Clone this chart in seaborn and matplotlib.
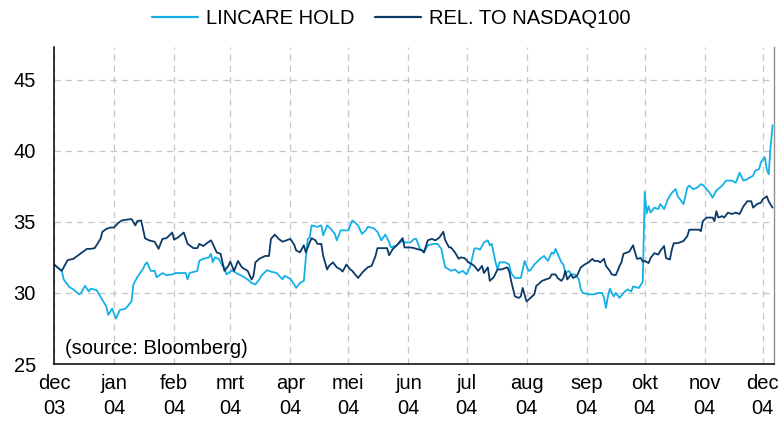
import pandas as pd
import numpy as np
import matplotlib
matplotlib.use('Agg')
import matplotlib.pyplot as plt
from matplotlib.lines import Line2D
import seaborn as sns

# --- dati (koers en relatieve koers, USD) ---
lincare_dates = [
    '2003-12-01', '2003-12-05', '2003-12-06', '2003-12-09', '2003-12-11', '2003-12-14', '2003-12-15',
    '2003-12-17', '2003-12-19', '2003-12-20', '2003-12-23', '2003-12-26', '2003-12-28', '2003-12-29',
    '2003-12-31', '2004-01-02', '2004-01-04', '2004-01-07', '2004-01-10', '2004-01-11', '2004-01-13',
    '2004-01-16', '2004-01-17', '2004-01-18', '2004-01-20', '2004-01-22', '2004-01-23', '2004-01-26',
    '2004-01-28', '2004-01-31', '2004-02-02', '2004-02-07', '2004-02-08', '2004-02-09', '2004-02-13',
    '2004-02-14', '2004-02-16', '2004-02-19', '2004-02-20', '2004-02-21', '2004-02-22', '2004-02-24',
    '2004-02-26', '2004-02-27', '2004-02-28', '2004-03-02', '2004-03-04', '2004-03-07', '2004-03-10',
    '2004-03-12', '2004-03-14', '2004-03-16', '2004-03-17', '2004-03-20', '2004-03-22', '2004-03-25',
    '2004-03-28', '2004-03-29', '2004-04-01', '2004-04-03', '2004-04-04', '2004-04-06', '2004-04-08',
    '2004-04-09', '2004-04-10', '2004-04-11', '2004-04-12', '2004-04-15', '2004-04-17', '2004-04-18',
    '2004-04-20', '2004-04-22', '2004-04-24', '2004-04-25', '2004-04-27', '2004-04-29', '2004-05-01',
    '2004-05-03', '2004-05-04', '2004-05-06', '2004-05-08', '2004-05-10', '2004-05-11', '2004-05-14',
    '2004-05-16', '2004-05-18', '2004-05-20', '2004-05-22', '2004-05-23', '2004-05-26', '2004-05-29',
    '2004-05-30', '2004-06-02', '2004-06-04', '2004-06-05', '2004-06-07', '2004-06-09', '2004-06-11',
    '2004-06-14', '2004-06-16', '2004-06-18', '2004-06-19', '2004-06-20', '2004-06-22', '2004-06-23',
    '2004-06-25', '2004-06-27', '2004-06-29', '2004-07-01', '2004-07-03', '2004-07-05', '2004-07-06',
    '2004-07-08', '2004-07-10', '2004-07-12', '2004-07-13', '2004-07-14', '2004-07-16', '2004-07-17',
    '2004-07-18', '2004-07-21', '2004-07-23', '2004-07-24', '2004-07-26', '2004-07-29', '2004-07-31',
    '2004-08-02', '2004-08-03', '2004-08-05', '2004-08-08', '2004-08-10', '2004-08-12', '2004-08-14',
    '2004-08-15', '2004-08-16', '2004-08-17', '2004-08-19', '2004-08-20', '2004-08-21', '2004-08-23',
    '2004-08-24', '2004-08-26', '2004-08-28', '2004-08-29', '2004-08-30', '2004-09-02', '2004-09-05',
    '2004-09-07', '2004-09-09', '2004-09-10', '2004-09-11', '2004-09-12', '2004-09-13', '2004-09-15',
    '2004-09-16', '2004-09-18', '2004-09-20', '2004-09-22', '2004-09-24', '2004-09-25', '2004-09-28',
    '2004-09-30', '2004-10-01', '2004-10-02', '2004-10-03', '2004-10-04', '2004-10-06', '2004-10-08',
    '2004-10-09', '2004-10-11', '2004-10-13', '2004-10-15', '2004-10-17', '2004-10-18', '2004-10-20',
    '2004-10-21', '2004-10-23', '2004-10-24', '2004-10-26', '2004-10-28', '2004-10-30', '2004-10-31',
    '2004-11-02', '2004-11-04', '2004-11-05', '2004-11-07', '2004-11-10', '2004-11-12', '2004-11-15',
    '2004-11-17', '2004-11-19', '2004-11-21', '2004-11-23', '2004-11-24', '2004-11-26', '2004-11-27',
    '2004-11-29', '2004-11-30', '2004-12-02', '2004-12-03', '2004-12-04', '2004-12-05', '2004-12-06',
]
lincare_values = [
    32.0, 31.55, 30.95, 30.4, 30.25, 29.9, 30.0,
    30.5, 30.1, 30.3, 30.2, 29.5, 29.05, 28.45,
    28.9, 28.2, 28.8, 28.9, 29.4, 30.6, 31.1,
    31.7, 32.0, 32.15, 31.55, 31.55, 31.1, 31.4,
    31.25, 31.3, 31.4, 31.4, 30.95, 31.4, 31.55,
    32.25, 32.4, 32.5, 32.75, 32.15, 32.5, 32.4,
    31.9, 31.8, 31.3, 31.6, 31.4, 31.2, 30.95,
    30.7, 30.6, 30.95, 31.2, 31.6, 31.5, 31.4,
    30.95, 31.2, 31.0, 30.6, 30.35, 30.7, 30.85,
    32.4, 33.8, 33.9, 34.75, 34.65, 34.75, 34.05,
    34.75, 34.5, 34.15, 33.7, 34.4, 34.4, 34.4,
    35.1, 35.0, 34.75, 34.15, 34.4, 34.65, 34.55,
    34.3, 33.7, 34.1, 33.6, 33.2, 33.35, 33.7,
    33.55, 33.55, 33.8, 33.8, 33.1, 32.85, 33.35,
    33.45, 33.45, 33.1, 32.4, 31.8, 31.65, 31.55,
    31.65, 31.4, 31.55, 31.3, 31.9, 33.1, 33.15,
    33.05, 33.55, 33.7, 33.35, 33.45, 32.15, 31.65,
    32.15, 32.15, 32.0, 31.4, 31.05, 31.05, 32.25,
    31.55, 31.6, 32.0, 32.4, 32.6, 32.25, 32.85,
    32.75, 33.1, 32.75, 32.15, 32.0, 31.4, 31.55,
    31.3, 31.3, 30.95, 30.25, 30.0, 29.9, 29.9,
    30.0, 30.0, 29.65, 28.95, 29.75, 30.3, 29.75,
    30.0, 29.65, 30.0, 30.25, 30.1, 30.45, 30.35,
    30.8, 37.1, 35.6, 36.1, 35.65, 36.0, 35.9,
    36.25, 35.9, 36.6, 37.05, 37.3, 36.8, 36.45,
    36.25, 37.4, 37.55, 37.3, 37.4, 37.65, 37.6,
    37.3, 36.95, 36.7, 37.2, 37.55, 37.9, 37.9,
    37.75, 38.45, 37.9, 38.0, 38.1, 38.25, 38.6,
    38.7, 39.2, 39.55, 38.7, 38.35, 40.3, 41.8,
]

rel_dates = [
    '2003-12-01', '2003-12-05', '2003-12-06', '2003-12-08', '2003-12-11', '2003-12-13', '2003-12-16',
    '2003-12-18', '2003-12-20', '2003-12-22', '2003-12-25', '2003-12-26', '2003-12-28', '2003-12-30',
    '2004-01-01', '2004-01-03', '2004-01-05', '2004-01-10', '2004-01-12', '2004-01-13', '2004-01-15',
    '2004-01-17', '2004-01-19', '2004-01-22', '2004-01-24', '2004-01-26', '2004-01-28', '2004-01-30',
    '2004-01-31', '2004-02-01', '2004-02-03', '2004-02-06', '2004-02-08', '2004-02-11', '2004-02-13',
    '2004-02-14', '2004-02-16', '2004-02-20', '2004-02-21', '2004-02-23', '2004-02-25', '2004-02-27',
    '2004-02-29', '2004-03-01', '2004-03-03', '2004-03-05', '2004-03-07', '2004-03-10', '2004-03-12',
    '2004-03-13', '2004-03-14', '2004-03-16', '2004-03-19', '2004-03-21', '2004-03-22', '2004-03-24',
    '2004-03-26', '2004-03-28', '2004-04-01', '2004-04-03', '2004-04-04', '2004-04-06', '2004-04-08',
    '2004-04-09', '2004-04-11', '2004-04-12', '2004-04-14', '2004-04-15', '2004-04-17', '2004-04-18',
    '2004-04-20', '2004-04-21', '2004-04-23', '2004-04-25', '2004-04-27', '2004-04-28', '2004-04-30',
    '2004-05-02', '2004-05-03', '2004-05-06', '2004-05-08', '2004-05-09', '2004-05-11', '2004-05-13',
    '2004-05-15', '2004-05-16', '2004-05-18', '2004-05-21', '2004-05-22', '2004-05-24', '2004-05-26',
    '2004-05-29', '2004-05-30', '2004-06-02', '2004-06-04', '2004-06-05', '2004-06-08', '2004-06-09',
    '2004-06-11', '2004-06-13', '2004-06-15', '2004-06-17', '2004-06-19', '2004-06-20', '2004-06-22',
    '2004-06-23', '2004-06-25', '2004-06-27', '2004-06-28', '2004-06-30', '2004-07-02', '2004-07-04',
    '2004-07-05', '2004-07-07', '2004-07-09', '2004-07-10', '2004-07-12', '2004-07-13', '2004-07-15',
    '2004-07-17', '2004-07-19', '2004-07-22', '2004-07-23', '2004-07-24', '2004-07-26', '2004-07-28',
    '2004-07-29', '2004-07-30', '2004-08-01', '2004-08-03', '2004-08-05', '2004-08-06', '2004-08-07',
    '2004-08-09', '2004-08-11', '2004-08-13', '2004-08-14', '2004-08-16', '2004-08-17', '2004-08-19',
    '2004-08-20', '2004-08-21', '2004-08-22', '2004-08-24', '2004-08-25', '2004-08-27', '2004-08-29',
    '2004-08-31', '2004-09-02', '2004-09-04', '2004-09-05', '2004-09-07', '2004-09-08', '2004-09-10',
    '2004-09-11', '2004-09-13', '2004-09-14', '2004-09-16', '2004-09-17', '2004-09-18', '2004-09-19',
    '2004-09-20', '2004-09-22', '2004-09-23', '2004-09-25', '2004-09-26', '2004-09-27', '2004-09-29',
    '2004-09-30', '2004-10-01', '2004-10-03', '2004-10-04', '2004-10-06', '2004-10-08', '2004-10-09',
    '2004-10-11', '2004-10-12', '2004-10-14', '2004-10-15', '2004-10-16', '2004-10-18', '2004-10-21',
    '2004-10-23', '2004-10-24', '2004-10-26', '2004-10-29', '2004-10-30', '2004-10-31', '2004-11-02',
    '2004-11-05', '2004-11-06', '2004-11-07', '2004-11-08', '2004-11-10', '2004-11-11', '2004-11-13',
    '2004-11-15', '2004-11-17', '2004-11-19', '2004-11-21', '2004-11-23', '2004-11-25', '2004-11-26',
    '2004-11-28', '2004-11-30', '2004-12-01', '2004-12-03', '2004-12-04', '2004-12-06',
]
rel_values = [
    32.0, 31.55, 31.8, 32.3, 32.4, 32.6, 32.9,
    33.1, 33.1, 33.15, 33.8, 34.3, 34.5, 34.6,
    34.6, 34.9, 35.1, 35.2, 34.75, 35.05, 35.1,
    33.85, 33.7, 33.6, 33.1, 33.8, 33.85, 34.1,
    34.25, 33.75, 33.9, 34.25, 33.45, 33.15, 33.15,
    33.45, 33.3, 33.7, 33.45, 32.85, 32.75, 31.55,
    31.9, 32.2, 31.55, 32.25, 31.8, 31.55, 30.95,
    31.2, 32.15, 32.4, 32.6, 32.6, 33.8, 34.1,
    33.8, 33.6, 33.8, 33.4, 33.0, 32.85, 33.35,
    32.85, 33.55, 33.85, 33.7, 33.45, 33.45, 32.6,
    31.65, 31.9, 32.15, 31.8, 31.65, 31.5, 32.0,
    31.65, 31.55, 31.05, 31.4, 31.55, 31.8, 31.9,
    32.6, 33.15, 33.15, 33.15, 32.65, 33.1, 33.35,
    33.85, 33.2, 33.2, 33.15, 33.1, 33.0, 32.85,
    33.7, 33.8, 33.7, 33.9, 34.3, 33.7, 33.2,
    33.2, 32.85, 32.4, 32.5, 32.45, 32.15, 32.0,
    31.9, 31.55, 31.9, 31.4, 31.8, 30.85, 31.1,
    31.65, 31.65, 31.8, 31.55, 30.85, 29.75, 29.65,
    29.75, 30.35, 29.4, 29.65, 29.9, 30.5, 30.6,
    30.85, 30.95, 31.05, 31.3, 31.3, 31.05, 30.85,
    31.05, 31.55, 30.95, 31.3, 31.05, 31.2, 31.8,
    32.0, 32.15, 32.4, 32.25, 32.25, 32.15, 32.4,
    31.9, 31.55, 31.3, 31.25, 31.55, 31.9, 32.15,
    32.75, 32.85, 32.9, 33.35, 32.85, 32.4, 32.45,
    32.2, 32.25, 32.1, 32.45, 32.8, 32.7, 32.95,
    33.3, 32.45, 32.35, 33.05, 33.5, 33.5, 33.65,
    34.0, 34.45, 34.45, 34.45, 34.35, 35.05, 35.3,
    35.3, 35.05, 35.75, 35.3, 35.4, 35.3, 35.65,
    35.55, 35.65, 35.55, 36.1, 36.45, 36.45, 36.0,
    36.25, 36.35, 36.6, 36.8, 36.45, 36.0,
]

series_names = ['LINCARE HOLD', 'REL. TO NASDAQ100']
series_colors = ['#14b1e7', '#0c3a68']
month_ticks = pd.date_range('2003-12-01', '2004-12-01', freq='MS')
month_labels = ['dec\n03', 'jan\n04', 'feb\n04', 'mrt\n04', 'apr\n04', 'mei\n04', 'jun\n04',
                'jul\n04', 'aug\n04', 'sep\n04', 'okt\n04', 'nov\n04', 'dec\n04']
y_ticks = [25, 30, 35, 40, 45]

# --- stile ---
sns.set_theme(style='white')
plt.rcParams['font.family'] = ['Liberation Sans', 'DejaVu Sans']
plt.rcParams['font.size'] = 14.5
plt.rcParams['text.color'] = 'black'
plt.rcParams['xtick.color'] = 'black'
plt.rcParams['ytick.color'] = 'black'

df = pd.concat([
    pd.DataFrame({'date': pd.to_datetime(lincare_dates), 'value': lincare_values, 'serie': series_names[0]}),
    pd.DataFrame({'date': pd.to_datetime(rel_dates), 'value': rel_values, 'serie': series_names[1]}),
], ignore_index=True)

fig = plt.figure(figsize=(7.82, 4.28), dpi=100)
ax = fig.add_axes([54 / 782, 1 - 364 / 428, 720 / 782, 317 / 428])

sns.lineplot(data=df, x='date', y='value', hue='serie', hue_order=series_names,
             palette=dict(zip(series_names, series_colors)), estimator=None,
             linewidth=1.3, legend=False, ax=ax)

ax.set_xlim(pd.Timestamp('2003-12-01'), pd.Timestamp('2004-12-06 18:00'))
ax.set_ylim(25, 47.3)
ax.set_xticks(month_ticks)
ax.set_xticklabels(month_labels, linespacing=1.45)
ax.set_yticks(y_ticks)
ax.set_xlabel('')
ax.set_ylabel('')

ax.grid(True, linestyle=(0, (5, 4)), color='#c6c6c6', linewidth=0.9)
ax.set_axisbelow(True)
ax.tick_params(axis='x', direction='in', length=4, width=1, colors='black', pad=7, labelsize=14.5)
ax.tick_params(axis='y', direction='out', length=5, width=1, colors='black', pad=8, labelsize=14.5)

for side in ['left', 'bottom']:
    ax.spines[side].set_color('black')
    ax.spines[side].set_linewidth(1.1)
ax.spines['right'].set_color('#909090')
ax.spines['right'].set_linewidth(1)
ax.spines['top'].set_visible(False)

ax.text(0.015, 0.05, '(source: Bloomberg)', transform=ax.transAxes,
        ha='left', va='center', fontsize=14.5, color='black')

handles = [Line2D([0], [0], color=c, linewidth=1.6) for c in series_colors]
fig.legend(handles, series_names, loc='center', bbox_to_anchor=(0.5, 1 - 19 / 428),
           ncol=2, frameon=False, handlelength=2.3, handletextpad=0.4,
           columnspacing=1.0, fontsize=14.5, labelcolor='black')

plt.savefig('out.png', dpi=100)
